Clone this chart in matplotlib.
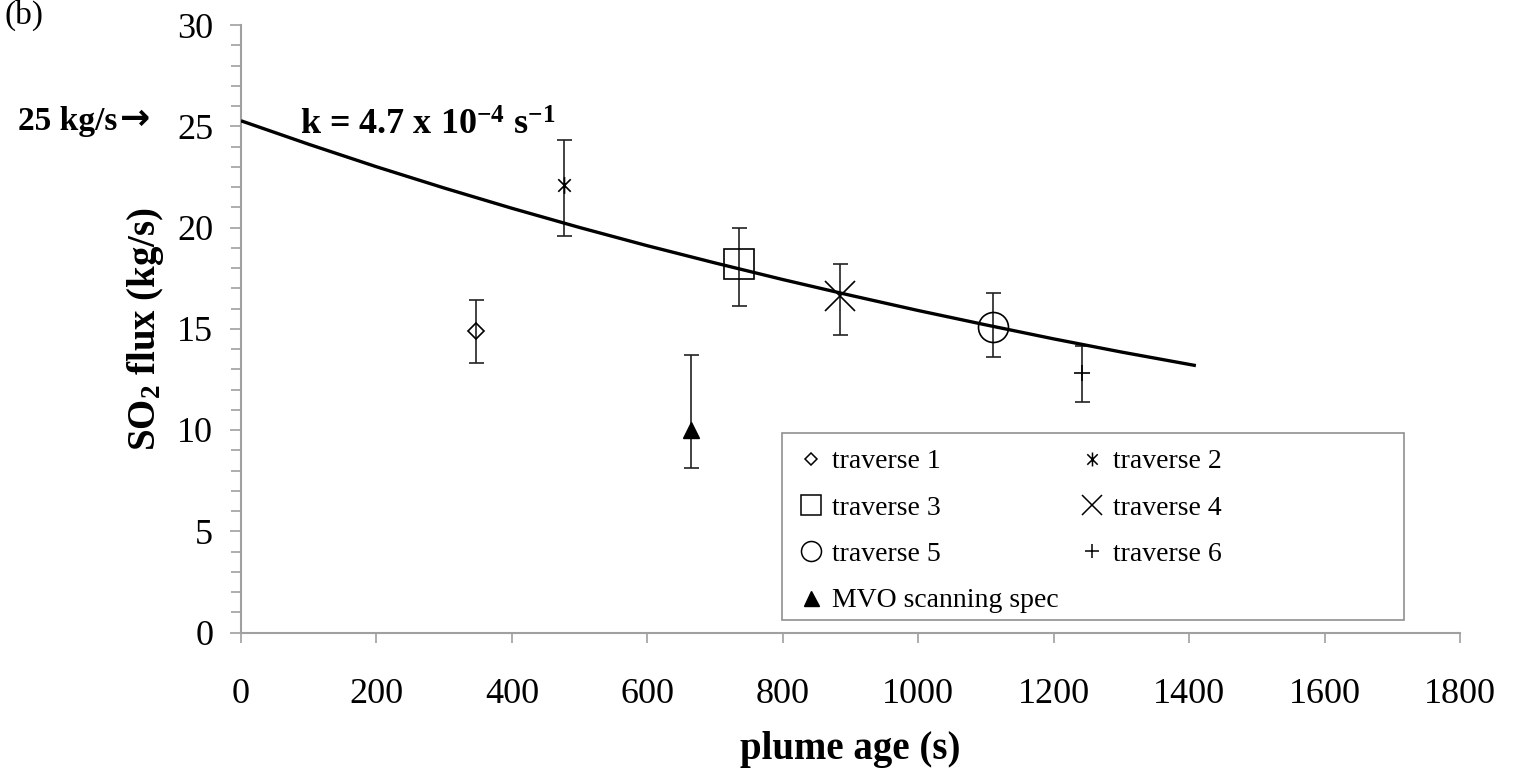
import matplotlib
matplotlib.use("Agg")
import matplotlib.pyplot as plt
from matplotlib.lines import Line2D
from matplotlib.patches import Rectangle
from matplotlib.path import Path
from matplotlib.ticker import MultipleLocator

plt.rcParams['font.family'] = ['Liberation Serif', 'DejaVu Serif']
plt.rcParams['mathtext.fontset'] = 'custom'
plt.rcParams['mathtext.rm'] = 'Liberation Serif'
plt.rcParams['mathtext.bf'] = 'Liberation Serif:bold'
plt.rcParams['mathtext.default'] = 'bf'

# ---- data ----
trav_labels = ["traverse 1", "traverse 2", "traverse 3", "traverse 4", "traverse 5", "traverse 6"]
trav_x = [347, 477, 735, 885, 1110, 1242]
trav_y = [14.9, 22.1, 18.2, 16.6, 15.1, 12.8]
trav_lo = [13.3, 19.6, 16.1, 14.7, 13.6, 11.4]
trav_hi = [16.4, 24.3, 20.0, 18.2, 16.75, 14.15]

mvo_label = "MVO scanning spec"
mvo_x = [664]
mvo_y = [10.0]
mvo_lo = [8.1]
mvo_hi = [13.7]

fit_x = [0, 100, 200, 300, 400, 500, 600, 700, 800, 900, 1000, 1100, 1200, 1300, 1410]
fit_y = [25.27, 24.11, 23.0, 21.95, 20.95, 20.0, 19.1, 18.25, 17.43, 16.65, 15.9, 15.19, 14.5, 13.85, 13.18]

x_ticks = [0, 200, 400, 600, 800, 1000, 1200, 1400, 1600, 1800]
y_ticks = [0, 5, 10, 15, 20, 25, 30]

# ---- styles ----
star = Path([(0, -1), (0, 1), (-0.75, -0.75), (0.75, 0.75), (-0.75, 0.75), (0.75, -0.75)],
            [Path.MOVETO, Path.LINETO, Path.MOVETO, Path.LINETO, Path.MOVETO, Path.LINETO])
markers = ['D', star, 's', 'x', 'o', '+']
msizes = [8.1, 12, 22, 21.6, 21.6, 11.5]
leg_sizes = [6.5, 10, 14.4, 14.4, 14.4, 9.4]

fig = plt.figure(figsize=(15.17, 7.72), dpi=100)
ax = fig.add_axes([241 / 1517, 1 - 632.5 / 772, (1460 - 241) / 1517, (632.5 - 25) / 772])

err_col = '#222222'
for i in range(len(trav_x)):
    yerr = [[trav_y[i] - trav_lo[i]], [trav_hi[i] - trav_y[i]]]
    ax.errorbar([trav_x[i]], [trav_y[i]], yerr=yerr, fmt='none', ecolor=err_col,
                elinewidth=1.2, capsize=5.4, capthick=1.2, zorder=2)
    ax.plot([trav_x[i]], [trav_y[i]], linestyle='none', marker=markers[i], ms=msizes[i],
            mfc='none', mec='black', mew=1.2, zorder=4)

mvo_err = [[mvo_y[0] - mvo_lo[0]], [mvo_hi[0] - mvo_y[0]]]
ax.errorbar(mvo_x, mvo_y, yerr=mvo_err, fmt='none', ecolor=err_col,
            elinewidth=1.2, capsize=5.4, capthick=1.2, zorder=2)
ax.plot(mvo_x, mvo_y, linestyle='none', marker='^', ms=12.2, mfc='black', mec='black', zorder=4)

ax.plot(fit_x, fit_y, color='black', lw=2.4, zorder=3, solid_capstyle='butt')

ax.set_xlim(0, 1800)
ax.set_ylim(0, 30)
ax.set_xticks(x_ticks)
ax.set_yticks(y_ticks)
ax.yaxis.set_minor_locator(MultipleLocator(1))
for s in ['top', 'right']:
    ax.spines[s].set_visible(False)
for s in ['left', 'bottom']:
    ax.spines[s].set_color('#a0a0a0')
    ax.spines[s].set_linewidth(1.5)
ax.tick_params(axis='both', which='both', direction='out', color='#a0a0a0', width=1.2,
               labelsize=26, labelcolor='black')
ax.tick_params(axis='y', which='major', length=8, pad=12)
ax.tick_params(axis='y', which='minor', length=7)
ax.tick_params(axis='x', which='major', length=7, pad=26)

ax.set_xlabel("plume age (s)", fontsize=28, fontweight='bold', labelpad=14)
ax.set_ylabel("SO$_{2}$ flux (kg/s)", fontsize=28, fontweight='bold', labelpad=8)

ax.text(87, 24.57, r"k = 4.7 x 10$^{-4}$ s$^{-1}$", fontsize=26, fontweight='bold',
        ha='left', va='baseline')
fig.text(18 / 1517, 1 - 130 / 772, "25 kg/s", fontsize=24, fontweight='bold',
         ha='left', va='baseline')
fig.text(120 / 1517, 1 - 129 / 772, "\u2192", fontsize=26, fontweight='bold',
         family=['DejaVu Sans'], ha='left', va='baseline')
fig.text(4 / 1517, 1.0, "(b)", fontsize=24, ha='left', va='top')

# legend
handles = []
order = [0, 2, 4, None, 1, 3, 5]
for idx in order:
    if idx is None:
        handles.append(Line2D([], [], linestyle='none', marker='^', ms=10.8, mfc='black',
                              mec='black', label=mvo_label))
    else:
        handles.append(Line2D([], [], linestyle='none', marker=markers[idx], ms=leg_sizes[idx],
                              mfc='none', mec='black', mew=1.1, label=trav_labels[idx]))
leg = ax.legend(handles=handles, ncol=2, loc='upper left',
                bbox_to_anchor=((797 - 241) / 1219, (632.5 - 449) / 607.5),
                frameon=False, fontsize=20, handlelength=1.0, handletextpad=0.25,
                columnspacing=0.7, labelspacing=0.75, borderpad=0, borderaxespad=0)
ax.add_patch(Rectangle(((782 - 241) / 1219, (632.5 - 620) / 607.5),
                       (1404 - 782) / 1219, (620 - 433) / 607.5,
                       transform=ax.transAxes, fill=False, edgecolor='#909090', lw=1.2,
                       zorder=5))

fig.savefig("out.png", dpi=100)
